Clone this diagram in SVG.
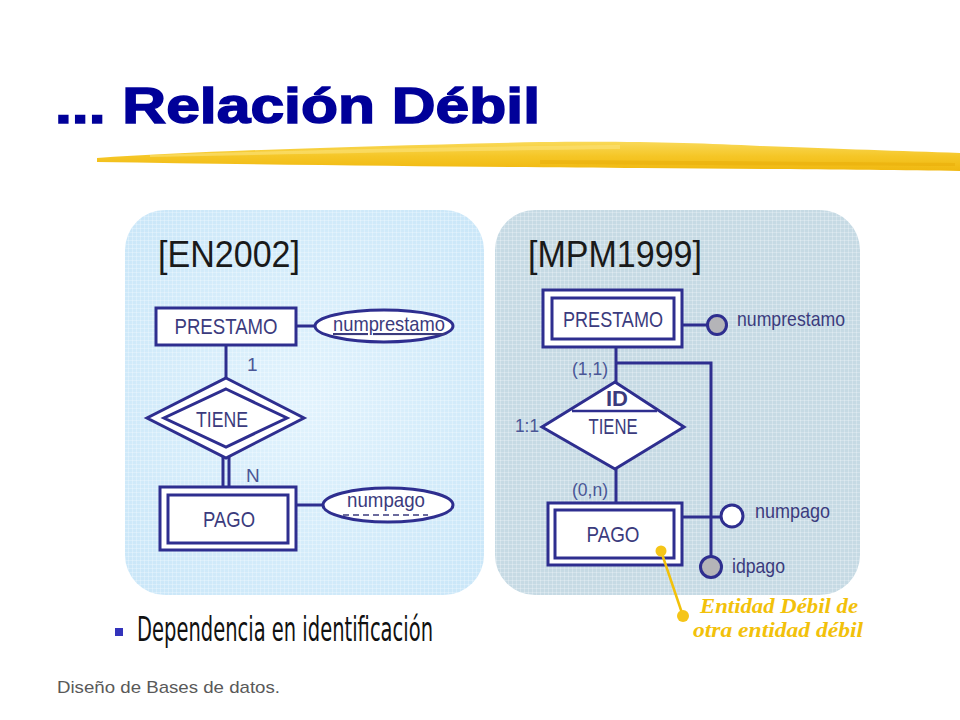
<svg xmlns="http://www.w3.org/2000/svg" width="960" height="720" viewBox="0 0 960 720">
<defs>
<style>
.ln{stroke:#2e2e8f;stroke-width:3;fill:none}
.box{stroke:#2e2e8f;stroke-width:3;fill:#fff}
.lbl{font-family:"Liberation Sans",Arial,sans-serif;font-size:22px;fill:#3b3b7d;text-anchor:middle}
.att{font-family:"Liberation Sans",Arial,sans-serif;font-size:21px;fill:#3b3b7d}
.card{font-family:"Liberation Sans",Arial,sans-serif;font-size:19px;fill:#4a5696}
.ref{font-family:"Liberation Sans",Arial,sans-serif;font-size:36px;fill:#1a1a1a}
.note{font-family:"Liberation Serif","Times New Roman",serif;font-style:italic;font-weight:bold;font-size:21px;fill:#f2c10a}
</style>
<radialGradient id="gl" cx="0.5" cy="0.5" r="0.7">
<stop offset="0" stop-color="#e2f3fd"/>
<stop offset="1" stop-color="#c9e6f8"/>
</radialGradient>
<linearGradient id="gy" x1="0" y1="0" x2="0" y2="1">
<stop offset="0" stop-color="#f9d958"/>
<stop offset="0.5" stop-color="#f5c626"/>
<stop offset="1" stop-color="#f0b810"/>
</linearGradient>
<pattern id="grid" width="4" height="4" patternUnits="userSpaceOnUse">
<path d="M0,0.5H4M0.5,0V4" stroke="#ffffff" stroke-opacity="0.25" stroke-width="1"/>
</pattern>
</defs>
<rect width="960" height="720" fill="#ffffff"/>

<g id="title">
<text x="55" y="123" font-family="Liberation Sans,Arial,sans-serif" font-weight="bold" font-size="50" fill="#000099" stroke="#000099" stroke-width="1.5" textLength="485" lengthAdjust="spacingAndGlyphs">... Relación Débil</text>
<path d="M97,158 C200,151 360,146 540,142 C640,141 700,143 760,146 C840,149 900,151 960,153 L960,171 C880,170 760,169 640,168 C500,167 300,165 97,162 Z" fill="url(#gy)"/>
<path d="M150,155 C300,150 450,147 620,145 L620,149 C450,151 300,154 150,157 Z" fill="#fbe27a" opacity="0.6"/>
<path d="M540,160 C700,161 850,162 955,163 L955,166 C850,166 700,165 540,164 Z" fill="#e8ac08" opacity="0.5"/>
</g>

<g id="panel-en2002">
<rect x="125" y="210" width="359" height="385" rx="40" fill="url(#gl)"/>
<rect x="125" y="210" width="359" height="385" rx="40" fill="url(#grid)"/>
<text class="ref" x="158" y="267" textLength="142" lengthAdjust="spacingAndGlyphs">[EN2002]</text>
</g>

<g id="panel-mpm1999">
<rect x="495" y="210" width="365" height="385" rx="40" fill="#c6dae4"/>
<rect x="495" y="210" width="365" height="385" rx="40" fill="url(#grid)"/>
<text class="ref" x="528" y="267" textLength="174" lengthAdjust="spacingAndGlyphs">[MPM1999]</text>
</g>

<g id="connectors">
<line class="ln" x1="296" y1="326" x2="316" y2="326"/>
<line class="ln" x1="226" y1="345" x2="226" y2="379"/>
<line class="ln" x1="223" y1="457" x2="223" y2="488"/>
<line class="ln" x1="229" y1="457" x2="229" y2="488"/>
<line class="ln" x1="296" y1="505" x2="324" y2="505"/>
<line class="ln" x1="675" y1="325" x2="708" y2="325"/>
<line class="ln" x1="616" y1="347" x2="616" y2="383"/>
<polyline class="ln" points="616,363 711,363 711,556"/>
<line class="ln" x1="616" y1="469" x2="616" y2="504"/>
<line class="ln" x1="674" y1="517" x2="721" y2="517"/>
</g>

<g id="en-prestamo">
<rect class="box" x="156" y="308" width="140" height="37"/>
<text class="lbl" x="226" y="334" textLength="103" lengthAdjust="spacingAndGlyphs">PRESTAMO</text>
</g>
<g id="en-numprestamo">
<ellipse class="box" cx="384" cy="326" rx="69" ry="16"/>
<text class="att" x="333" y="331" textLength="112" lengthAdjust="spacingAndGlyphs" text-decoration="underline">numprestamo</text>
</g>
<g id="en-tiene">
<polygon class="box" points="226,378 304,418 226,458 147,418"/>
<polygon class="box" points="226,389 287,418 226,447 164,418"/>
<text class="lbl" x="222" y="427" textLength="52" lengthAdjust="spacingAndGlyphs">TIENE</text>
<text class="card" x="247" y="371">1</text>
<text class="card" x="246" y="482">N</text>
</g>
<g id="en-pago">
<rect class="box" x="160" y="487" width="136" height="63"/>
<rect class="box" x="168" y="495" width="120" height="48"/>
<text class="lbl" x="229" y="527" textLength="52" lengthAdjust="spacingAndGlyphs">PAGO</text>
</g>
<g id="en-numpago">
<ellipse class="box" cx="388" cy="505" rx="65" ry="17"/>
<text class="att" x="347" y="507" textLength="78" lengthAdjust="spacingAndGlyphs">numpago</text>
<line x1="343" y1="515" x2="428" y2="515" stroke="#3b3b7d" stroke-width="1.5" stroke-dasharray="6,4"/>
</g>

<g id="mpm-prestamo">
<rect class="box" x="543" y="290" width="139" height="57"/>
<rect class="box" x="552" y="298" width="122" height="41"/>
<text class="lbl" x="613" y="327" textLength="100" lengthAdjust="spacingAndGlyphs">PRESTAMO</text>
</g>
<g id="mpm-numprestamo">
<circle cx="717" cy="325" r="9.5" fill="#b4b4b8" stroke="#2e2e8f" stroke-width="3"/>
<text class="att" x="737" y="326" textLength="108" lengthAdjust="spacingAndGlyphs">numprestamo</text>
</g>
<g id="mpm-tiene">
<polygon class="box" points="615,382 684,427 615,469 542,427"/>
<line x1="572" y1="411" x2="657" y2="411" stroke="#2e2e8f" stroke-width="2.5"/>
<text class="lbl" x="617" y="406" font-weight="bold">ID</text>
<text class="lbl" x="613" y="434" textLength="49" lengthAdjust="spacingAndGlyphs">TIENE</text>
<text class="card" x="515" y="432" textLength="24" lengthAdjust="spacingAndGlyphs">1:1</text>
<text class="card" x="572" y="375" textLength="36" lengthAdjust="spacingAndGlyphs">(1,1)</text>
<text class="card" x="572" y="496" textLength="36" lengthAdjust="spacingAndGlyphs">(0,n)</text>
</g>
<g id="mpm-pago">
<rect class="box" x="548" y="503" width="134" height="62"/>
<rect class="box" x="555" y="510" width="119" height="48"/>
<text class="lbl" x="613" y="542" textLength="53" lengthAdjust="spacingAndGlyphs">PAGO</text>
</g>
<g id="mpm-numpago">
<circle cx="732" cy="516" r="11" fill="#ffffff" stroke="#2e2e8f" stroke-width="3"/>
<text class="att" x="755" y="518" textLength="75" lengthAdjust="spacingAndGlyphs">numpago</text>
</g>
<g id="mpm-idpago">
<circle cx="711" cy="567" r="10.5" fill="#b4b4b8" stroke="#2e2e8f" stroke-width="3"/>
<text class="att" x="732" y="573" textLength="53" lengthAdjust="spacingAndGlyphs">idpago</text>
</g>

<g id="annotation">
<line x1="661" y1="551" x2="683" y2="616" stroke="#f2c10a" stroke-width="2.5"/>
<circle cx="661" cy="551" r="5.5" fill="#f5c518"/>
<circle cx="683" cy="616" r="6" fill="#f5c518"/>
<text class="note" x="700" y="613" textLength="158" lengthAdjust="spacingAndGlyphs">Entidad Débil de</text>
<text class="note" x="693" y="637" textLength="170" lengthAdjust="spacingAndGlyphs">otra entidad débil</text>
</g>

<g id="bullet">
<rect x="115" y="628" width="8" height="8" fill="#3333bb"/>
<text x="137" y="641" font-family="DejaVu Sans,Verdana,sans-serif" font-size="34" fill="#111111" textLength="296" lengthAdjust="spacingAndGlyphs">Dependencia en identificación</text>
</g>

<g id="footer">
<text x="57" y="693" font-family="Liberation Sans,Arial,sans-serif" font-size="17" fill="#595959" textLength="223" lengthAdjust="spacingAndGlyphs">Diseño de Bases de datos.</text>
</g>
</svg>
